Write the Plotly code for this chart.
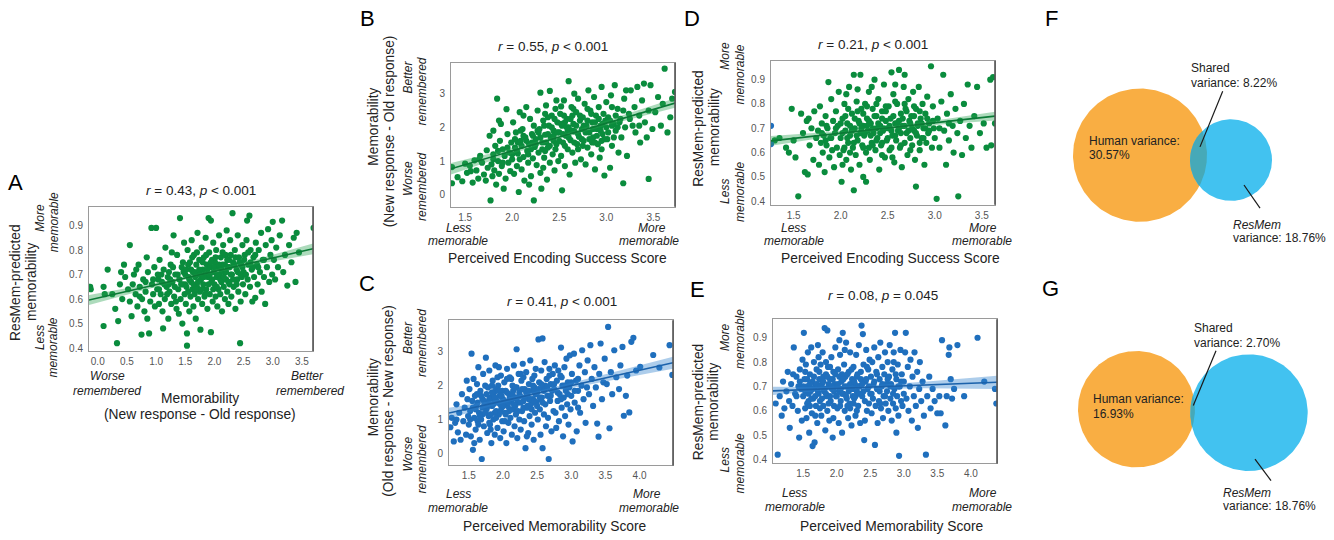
import numpy as np
import plotly.graph_objects as go

W, H = 1334, 540
FONT = "Liberation Sans, Arial, sans-serif"

# ---------------- data ----------------
# Panel A: x = Memorability (New - Old), y = ResMem-predicted memorability
A_points = [
 (-0.13,0.65),(-0.12,0.64),(0.10,0.65),(0.17,0.72),(0.12,0.62),(0.10,0.49),(0.30,0.56),(0.33,0.42),(0.35,0.51),
 (0.38,0.66),(0.42,0.60),(0.45,0.74),(0.25,0.62),(0.47,0.69),(0.40,0.71),
 (0.55,0.82),(0.52,0.64),(0.55,0.59),(0.58,0.53),(0.60,0.66),(0.62,0.70),(0.65,0.62),(0.68,0.57),(0.70,0.74),
 (0.72,0.65),(0.75,0.455),(0.76,0.60),(0.78,0.68),(0.80,0.55),(0.82,0.63),(0.84,0.77),(0.86,0.71),(0.88,0.46),
 (0.90,0.59),(0.92,0.89),(0.93,0.66),(0.95,0.62),(0.97,0.73),(0.98,0.57),(1.00,0.89),(0.66,0.72),(0.85,0.52),
 (1.02,0.64),(1.03,0.70),(1.05,0.58),(1.06,0.76),(1.08,0.62),(1.10,0.67),(1.11,0.55),(1.13,0.72),(1.15,0.60),
 (1.16,0.81),(1.18,0.65),(1.20,0.69),(1.21,0.52),(1.23,0.63),(1.25,0.74),(1.26,0.58),(1.28,0.67),(1.30,0.86),
 (1.31,0.61),(1.33,0.70),(1.35,0.56),(1.36,0.78),(1.38,0.64),(1.40,0.68),(1.41,0.93),(1.42,0.60),(1.44,0.73),
 (1.45,0.50),(1.46,0.66),(1.48,0.83),(1.49,0.62),(1.12,0.48),(1.27,0.79),(1.39,0.54),(1.04,0.68),(1.22,0.66),
 (1.34,0.59),(1.47,0.71),
 (1.50,0.66),(1.51,0.58),(1.52,0.72),(1.53,0.41),(1.53,0.46),(1.54,0.80),(1.55,0.63),(1.56,0.69),(1.57,0.55),
 (1.58,0.75),(1.59,0.61),(1.60,0.67),(1.61,0.84),(1.62,0.64),(1.63,0.71),(1.64,0.57),(1.65,0.78),(1.66,0.62),
 (1.67,0.69),(1.68,0.52),(1.69,0.74),(1.70,0.65),(1.71,0.87),(1.72,0.60),(1.73,0.70),(1.74,0.76),(1.75,0.63),
 (1.76,0.475),(1.77,0.68),(1.78,0.81),(1.79,0.58),(1.80,0.72),(1.81,0.66),(1.82,0.77),(1.83,0.61),(1.84,0.70),
 (1.85,0.85),(1.86,0.64),(1.87,0.74),(1.88,0.56),(1.89,0.69),(1.90,0.93),(1.91,0.79),(1.92,0.62),(1.93,0.73),
 (1.94,0.92),(1.94,0.465),(1.95,0.67),(1.96,0.76),(1.97,0.59),(1.98,0.83),(1.99,0.71),
 (2.00,0.66),(2.01,0.75),(2.02,0.61),(2.03,0.80),(2.04,0.69),(2.05,0.57),(2.06,0.73),(2.07,0.64),(2.08,0.86),
 (2.09,0.70),(2.10,0.62),(2.11,0.77),(2.12,0.67),(2.13,0.55),(2.14,0.74),(2.15,0.82),(2.16,0.65),(2.17,0.71),
 (2.18,0.60),(2.19,0.78),(2.20,0.68),(2.21,0.88),(2.22,0.63),(2.23,0.73),(2.24,0.58),(2.25,0.76),(2.26,0.66),
 (2.27,0.84),(2.28,0.70),(2.29,0.61),(2.31,0.95),(2.32,0.75),(2.33,0.65),(2.35,0.80),(2.36,0.56),(2.38,0.72),
 (2.39,0.68),(2.40,0.86),(2.41,0.63),(2.42,0.77),(2.44,0.42),(2.45,0.59),(2.46,0.74),(2.47,0.69),(2.48,0.82),
 (2.49,0.66),
 (2.50,0.71),(2.52,0.78),(2.53,0.62),(2.55,0.84),(2.56,0.92),(2.57,0.68),(2.58,0.74),(2.60,0.94),(2.61,0.65),
 (2.62,0.80),(2.64,0.72),(2.65,0.59),(2.67,0.77),(2.68,0.69),(2.70,0.605),(2.71,0.83),(2.73,0.74),(2.74,0.66),
 (2.76,0.80),(2.78,0.71),(2.80,0.87),(2.81,0.63),(2.83,0.76),(2.85,0.69),(2.87,0.58),(2.88,0.82),(2.90,0.73),
 (2.92,0.885),(2.94,0.67),(2.96,0.78),(2.98,0.84),(2.99,0.70),
 (3.00,0.915),(3.02,0.76),(3.04,0.68),(3.06,0.81),(3.09,0.73),(3.12,0.86),(3.16,0.92),(3.18,0.71),(3.21,0.78),
 (3.25,0.655),(3.28,0.82),(3.32,0.75),(3.36,0.85),(3.39,0.67),(3.41,0.87),(3.45,0.79),(3.70,0.89),
 (1.22,0.71),(1.24,0.68),(1.29,0.73),(1.32,0.65),(1.37,0.70),(1.43,0.66),(1.46,0.75),(1.50,0.70),(1.52,0.65),
 (1.55,0.74),(1.57,0.68),(1.60,0.72),(1.62,0.77),(1.64,0.66),(1.66,0.71),(1.68,0.64),(1.70,0.79),(1.72,0.67),
 (1.74,0.72),(1.76,0.70),(1.78,0.64),(1.80,0.75),(1.82,0.69),(1.84,0.62),(1.86,0.78),(1.88,0.72),(1.90,0.66),
 (1.92,0.70),(1.94,0.75),(1.96,0.68),(1.98,0.64),(2.00,0.73),(2.02,0.77),(2.04,0.65),(2.06,0.70),(2.08,0.74),
 (2.10,0.68),(2.12,0.72),(2.14,0.79),(2.16,0.69),(2.18,0.74),(2.20,0.71),(2.22,0.76),(2.24,0.67),(2.26,0.73),
 (2.28,0.78),(2.30,0.70),(2.32,0.68),(2.34,0.74),(2.36,0.77),(2.38,0.66),(2.40,0.71),(2.43,0.75),(2.45,0.70),
 (2.48,0.73),(2.51,0.76),(2.54,0.70),(2.58,0.79),(2.62,0.75),(2.66,0.73),(1.05,0.64),(1.09,0.70),(1.14,0.66),
 (1.19,0.62),(0.72,0.61),(0.82,0.67),(0.95,0.68),(2.70,0.78),(2.75,0.73),(2.85,0.76),
]
A_fit_x = [-0.15, 0.8, 1.8, 2.8, 3.69]
A_fit_y = [0.596, 0.647, 0.702, 0.756, 0.805]
A_fit_ci = [0.020, 0.010, 0.005, 0.011, 0.022]

# Panel B: x = Perceived Encoding Success Score, y = Memorability (New - Old)
B_points = [
 (1.36,0.34),(1.36,0.82),(1.42,0.52),(1.47,0.40),(1.50,0.92),(1.52,0.65),(1.55,0.86),(1.58,0.36),(1.60,1.02),
 (1.62,0.72),(1.64,0.48),(1.66,1.15),(1.68,0.95),(1.70,0.60),(1.72,0.42),(1.73,1.32),(1.74,0.80),(1.65,1.05),
 (1.56,0.70),
 (1.76,1.75),(1.77,-0.17),(1.78,0.90),(1.79,0.55),(1.80,1.20),(1.81,0.72),(1.82,1.45),(1.83,0.30),(1.84,2.85),
 (1.85,1.00),(1.86,0.62),(1.87,1.60),(1.88,2.10),(1.89,0.85),(1.90,1.35),(1.91,0.18),(1.92,1.15),(1.93,0.48),
 (1.94,2.54),(1.95,1.80),(1.96,0.95),(1.97,1.25),(1.98,0.70),(1.99,1.55),(1.86,2.20),(1.80,1.90),
 (2.00,1.05),(2.01,2.15),(2.02,0.62),(2.03,1.40),(2.04,1.85),(2.05,0.85),(2.06,1.22),(2.07,0.08),(2.08,2.45),
 (2.09,1.60),(2.10,0.75),(2.11,1.95),(2.12,1.12),(2.13,0.42),(2.14,1.70),(2.15,2.60),(2.16,1.30),(2.17,0.95),
 (2.18,1.50),(2.19,2.25),(2.20,0.55),(2.21,1.80),(2.22,1.08),(2.23,-0.17),(2.23,2.05),(2.24,1.42),(2.12,2.35),
 (2.06,1.55),(2.18,0.30),(2.09,1.90),
 (2.25,1.65),(2.26,0.88),(2.27,2.50),(2.28,1.25),(2.29,1.95),(2.30,3.03),(2.30,0.65),(2.31,0.18),(2.32,1.55),
 (2.33,2.20),(2.34,1.10),(2.35,1.78),(2.36,2.65),(2.37,0.45),(2.38,1.40),(2.39,2.05),(2.40,3.08),(2.40,0.95),
 (2.41,1.70),(2.42,2.35),(2.43,1.20),(2.44,1.90),(2.45,0.72),(2.46,2.55),(2.47,1.50),(2.48,2.15),(2.49,1.00),
 (2.28,1.85),(2.35,1.30),(2.44,1.60),(2.33,0.80),(2.47,2.80),(2.38,2.30),
 (2.50,1.85),(2.51,2.40),(2.52,1.15),(2.53,0.13),(2.53,2.05),(2.54,1.55),(2.55,2.80),(2.56,0.85),(2.57,1.75),
 (2.58,2.25),(2.59,1.35),(2.60,3.37),(2.60,2.00),(2.61,0.60),(2.62,1.62),(2.63,2.60),(2.64,1.25),(2.65,2.10),
 (2.66,1.88),(2.67,0.95),(2.68,2.45),(2.69,1.50),(2.70,2.85),(2.71,1.72),(2.72,2.20),(2.73,1.05),(2.74,1.95),
 (2.56,2.15),(2.64,2.35),(2.70,1.35),(2.59,1.90),(2.66,3.00),(2.52,2.62),
 (2.75,2.30),(2.76,1.60),(2.77,2.70),(2.78,0.90),(2.79,2.05),(2.80,1.40),(2.81,3.10),(2.82,1.85),(2.83,2.50),
 (2.84,1.20),(2.85,2.15),(2.86,1.70),(2.87,2.90),(2.88,0.75),(2.89,2.35),(2.90,1.95),(2.91,1.50),(2.92,2.60),
 (2.93,1.10),(2.94,2.05),(2.95,3.20),(2.96,1.80),(2.97,2.40),(2.98,0.57),(2.99,2.20),(2.80,2.55),(2.88,1.55),
 (2.95,1.35),
 (3.00,2.75),(3.01,1.65),(3.02,2.30),(3.04,0.80),(3.05,2.95),(3.06,1.45),(3.08,2.10),(3.09,3.25),(3.10,1.90),
 (3.12,2.55),(3.13,1.25),(3.15,2.25),(3.16,1.70),(3.18,0.34),(3.19,2.85),(3.20,2.00),(3.21,3.10),(3.22,1.15),
 (3.24,2.40),(3.06,2.60),
 (3.26,3.10),(3.28,2.05),(3.30,2.60),(3.31,1.85),(3.33,3.20),(3.35,2.35),(3.36,1.55),(3.38,2.80),(3.40,3.30),
 (3.41,2.15),(3.43,1.70),(3.45,0.47),(3.45,2.50),(3.47,3.25),(3.49,1.95),
 (3.52,2.45),(3.55,2.90),(3.58,2.05),(3.60,2.70),(3.62,3.74),(3.65,1.85),(3.68,2.30),(3.70,2.85),(3.73,3.05),
 (2.05,1.30),(2.10,1.45),(2.15,1.60),(2.20,1.35),(2.22,1.75),(2.25,1.50),(2.27,1.90),(2.30,1.70),(2.32,1.35),
 (2.34,2.05),(2.36,1.55),(2.38,1.80),(2.40,1.45),(2.42,2.00),(2.44,1.75),(2.46,1.35),(2.48,1.85),(2.50,1.60),
 (2.52,2.10),(2.54,1.80),(2.56,1.45),(2.58,2.00),(2.60,1.70),(2.62,2.25),(2.64,1.90),(2.66,1.55),(2.68,2.05),
 (2.70,1.80),(2.72,2.35),(2.74,1.65),(2.76,2.05),(2.78,1.85),(2.80,2.20),(2.82,1.65),(2.84,2.40),(2.86,1.95),
 (2.88,2.15),(2.90,1.75),(2.92,2.25),(2.94,1.90),(2.96,2.10),(2.98,1.65),(3.00,2.00),(3.02,1.85),(3.04,2.20),
 (3.06,2.05),(3.08,1.70),(3.10,2.35),(3.12,2.00),(3.14,2.15),(1.80,1.05),(1.85,1.30),(1.90,0.95),(1.95,1.40),
 (2.00,1.20),(2.03,1.65),(2.08,1.05),(2.12,1.75),(2.17,1.20),(2.21,1.55),(2.35,2.40),(2.45,2.25),(2.55,2.35),
 (2.65,2.55),(2.75,1.45),(2.85,1.55),(2.95,1.60),(3.18,2.50),(3.25,2.25),(3.35,2.05),
]
B_fit_x = [1.35, 1.95, 2.5, 3.1, 3.73]
B_fit_y = [0.77, 1.26, 1.71, 2.21, 2.72]
B_fit_ci = [0.17, 0.09, 0.05, 0.08, 0.14]

# Panel D: x = Perceived Encoding Success Score, y = ResMem-predicted memorability
D_points = [
 (1.30,0.65),(1.35,0.66),(1.42,0.62),(1.45,0.60),(1.48,0.78),(1.50,0.65),(1.52,0.58),(1.55,0.42),(1.58,0.76),
 (1.60,0.68),(1.62,0.52),(1.64,0.73),(1.65,0.51),(1.67,0.63),(1.69,0.70),(1.71,0.57),(1.72,0.77),(1.74,0.66),
 (1.66,0.74),
 (1.76,0.69),(1.77,0.55),(1.78,0.79),(1.79,0.64),(1.80,0.72),(1.81,0.60),(1.82,0.67),(1.83,0.52),(1.84,0.75),
 (1.85,0.63),(1.86,0.70),(1.87,0.89),(1.88,0.58),(1.89,0.66),(1.90,0.82),(1.91,0.61),(1.92,0.73),(1.93,0.54),
 (1.94,0.68),(1.95,0.77),(1.96,0.62),(1.97,0.71),(1.98,0.85),(1.99,0.59),(1.84,0.65),
 (2.00,0.66),(2.01,0.48),(2.02,0.74),(2.03,0.61),(2.04,0.80),(2.05,0.69),(2.06,0.57),(2.07,0.72),(2.08,0.64),
 (2.09,0.87),(2.10,0.67),(2.11,0.53),(2.12,0.76),(2.13,0.62),(2.14,0.92),(2.14,0.445),(2.15,0.70),(2.16,0.59),
 (2.17,0.81),(2.18,0.65),(2.19,0.73),(2.20,0.55),(2.21,0.92),(2.21,0.68),(2.22,0.78),(2.23,0.63),(2.24,0.71),
 (2.06,0.84),(2.18,0.86),(2.10,0.60),(2.02,0.55),(2.24,0.50),
 (2.25,0.67),(2.26,0.80),(2.27,0.60),(2.28,0.74),(2.29,0.69),(2.30,0.85),(2.31,0.57),(2.32,0.72),(2.33,0.64),
 (2.34,0.78),(2.35,0.68),(2.36,0.90),(2.37,0.61),(2.38,0.75),(2.39,0.66),(2.40,0.82),(2.41,0.53),(2.42,0.71),
 (2.43,0.63),(2.44,0.77),(2.45,0.69),(2.46,0.88),(2.47,0.58),(2.48,0.73),(2.49,0.65),(2.27,0.48),(2.33,0.87),
 (2.44,0.59),(2.38,0.70),(2.30,0.62),
 (2.50,0.70),(2.51,0.79),(2.52,0.61),(2.53,0.74),(2.54,0.93),(2.55,0.67),(2.56,0.84),(2.57,0.56),(2.58,0.72),
 (2.59,0.65),(2.60,0.80),(2.61,0.69),(2.62,0.94),(2.63,0.62),(2.64,0.76),(2.65,0.54),(2.66,0.71),(2.67,0.87),
 (2.68,0.64),(2.69,0.78),(2.70,0.68),(2.71,0.59),(2.72,0.82),(2.73,0.73),(2.74,0.66),(2.55,0.58),(2.62,0.73),
 (2.68,0.92),(2.58,0.88),
 (2.75,0.75),(2.76,0.63),(2.77,0.85),(2.78,0.69),(2.79,0.57),(2.80,0.46),(2.80,0.78),(2.81,0.67),(2.82,0.72),
 (2.83,0.87),(2.84,0.61),(2.85,0.74),(2.86,0.66),(2.87,0.80),(2.88,0.70),(2.89,0.55),(2.90,0.76),(2.91,0.64),
 (2.92,0.83),(2.93,0.68),(2.94,0.72),(2.96,0.955),(2.97,0.62),(2.98,0.79),(2.99,0.70),
 (3.00,0.66),(3.02,0.41),(3.03,0.74),(3.05,0.62),(3.07,0.81),(3.09,0.92),(3.10,0.69),(3.12,0.55),(3.13,0.76),
 (3.15,0.65),(3.17,0.84),(3.19,0.71),(3.20,0.60),(3.22,0.78),(3.24,0.68),
 (3.25,0.42),(3.27,0.73),(3.29,0.59),(3.31,0.80),(3.33,0.66),(3.35,0.88),(3.37,0.71),(3.39,0.62),(3.42,0.75),
 (3.45,0.87),(3.48,0.68),(3.52,0.72),(3.55,0.62),(3.59,0.90),(3.60,0.63),(3.62,0.91),(3.64,0.72),
 (1.80,0.68),(1.85,0.71),(1.90,0.66),(1.95,0.70),(2.00,0.72),(2.02,0.68),(2.05,0.75),(2.07,0.66),(2.10,0.71),
 (2.12,0.69),(2.15,0.74),(2.17,0.67),(2.20,0.72),(2.22,0.70),(2.24,0.76),(2.26,0.68),(2.28,0.71),(2.30,0.73),
 (2.32,0.67),(2.34,0.70),(2.36,0.75),(2.38,0.65),(2.40,0.72),(2.42,0.68),(2.44,0.74),(2.46,0.70),(2.48,0.77),
 (2.50,0.66),(2.52,0.71),(2.54,0.69),(2.56,0.75),(2.58,0.67),(2.60,0.72),(2.62,0.70),(2.64,0.68),(2.66,0.74),
 (2.68,0.71),(2.70,0.77),(2.72,0.69),(2.74,0.72),(2.76,0.70),(2.78,0.75),(2.80,0.68),(2.82,0.71),(2.84,0.77),
 (2.86,0.72),(2.88,0.66),(2.90,0.70),(2.92,0.74),(2.94,0.69),(2.04,0.62),(2.14,0.64),(2.24,0.62),(2.34,0.63),
 (2.44,0.64),(2.54,0.62),(2.64,0.63),(2.74,0.61),(2.84,0.64),(2.98,0.73),(2.08,0.78),(2.18,0.77),(2.28,0.79),
 (2.38,0.80),(2.48,0.79),(2.58,0.81),(2.68,0.80),(2.78,0.79),(3.05,0.70),(3.15,0.72),
]
D_stray_points = [(1.26,0.71),(1.26,0.635)]
D_fit_x = [1.26, 1.9, 2.5, 3.1, 3.64]
D_fit_y = [0.648, 0.676, 0.701, 0.727, 0.750]
D_fit_ci = [0.020, 0.010, 0.006, 0.010, 0.018]

# Panel C: x = Perceived Memorability Score, y = Memorability (Old - New)
C_points = [
 (1.23,0.77),(1.25,1.05),(1.28,0.35),(1.30,0.90),(1.32,1.45),(1.34,0.62),(1.36,1.20),(1.38,0.40),(1.40,1.75),
 (1.42,0.95),(1.44,1.35),(1.46,0.55),(1.47,2.15),(1.48,1.60),(1.49,1.10),(1.32,1.00),
 (1.50,0.85),(1.51,1.90),(1.52,1.25),(1.53,0.50),(1.54,2.95),(1.55,1.55),(1.56,0.10),(1.57,2.20),(1.58,1.05),
 (1.59,1.70),(1.60,0.70),(1.61,1.40),(1.62,2.05),(1.63,0.95),(1.64,2.55),(1.65,1.20),(1.66,0.40),(1.67,1.85),
 (1.68,1.00),(1.69,-0.17),(1.70,1.60),(1.71,2.35),(1.72,0.80),(1.73,1.45),(1.74,2.00),(1.75,2.83),(1.62,1.75),
 (1.70,1.15),(1.58,0.30),
 (1.76,1.30),(1.77,0.60),(1.78,1.95),(1.79,1.10),(1.80,2.45),(1.81,0.85),(1.82,1.65),(1.83,0.30),(1.84,1.40),
 (1.85,2.15),(1.86,1.00),(1.87,1.80),(1.88,0.55),(1.89,2.60),(1.90,1.25),(1.91,1.55),(1.92,0.75),(1.93,2.00),
 (1.94,1.15),(1.95,1.70),(1.96,0.45),(1.97,2.30),(1.98,1.35),(1.99,0.95),(1.78,1.50),(1.84,2.00),(1.90,1.90),
 (1.96,1.45),(1.80,0.90),(1.88,1.20),(1.94,2.55),(1.86,1.60),(1.99,1.85),
 (2.00,1.60),(2.01,0.65),(2.02,2.10),(2.03,1.20),(2.04,1.85),(2.05,0.30),(2.06,2.50),(2.07,1.40),(2.08,0.90),
 (2.09,1.75),(2.10,2.25),(2.11,1.05),(2.12,1.55),(2.13,0.55),(2.14,2.00),(2.15,1.30),(2.16,2.60),(2.17,0.80),
 (2.18,1.65),(2.19,1.15),(2.20,3.08),(2.20,1.95),(2.21,0.45),(2.22,1.50),(2.23,2.35),(2.24,1.00),(2.05,1.50),
 (2.12,2.20),(2.18,1.40),(2.24,1.80),(2.03,0.95),(2.15,1.85),(2.09,1.25),
 (2.25,1.70),(2.26,0.70),(2.27,2.15),(2.28,1.25),(2.29,2.65),(2.30,1.55),(2.31,0.95),(2.32,1.90),(2.33,0.15),
 (2.34,2.40),(2.35,1.35),(2.36,1.75),(2.37,0.60),(2.38,2.05),(2.39,1.10),(2.40,2.75),(2.41,1.45),(2.42,0.85),
 (2.43,2.20),(2.44,1.60),(2.45,0.40),(2.46,1.95),(2.47,1.20),(2.48,2.50),(2.49,1.50),(2.30,2.25),(2.38,1.60),
 (2.44,1.85),(2.35,0.50),
 (2.50,1.80),(2.51,1.00),(2.52,3.37),(2.53,2.10),(2.54,1.30),(2.55,0.55),(2.56,2.45),(2.57,1.65),(2.58,3.40),
 (2.58,0.15),(2.59,1.95),(2.60,1.15),(2.61,2.70),(2.62,1.45),(2.63,0.80),(2.64,2.20),(2.65,1.70),(2.66,1.05),
 (2.67,-0.17),(2.68,2.50),(2.69,1.55),(2.70,2.05),(2.71,0.65),(2.72,1.85),(2.73,2.35),(2.74,1.25),(2.62,2.00),
 (2.55,1.60),
 (2.75,1.90),(2.76,2.60),(2.77,1.20),(2.78,0.75),(2.79,2.15),(2.80,1.55),(2.81,2.45),(2.82,0.95),(2.83,1.75),
 (2.84,2.30),(2.85,3.13),(2.86,1.35),(2.87,2.00),(2.88,0.50),(2.89,1.65),(2.90,2.55),(2.91,1.10),(2.92,1.85),
 (2.93,2.80),(2.94,1.45),(2.95,2.10),(2.96,0.85),(2.97,1.95),(2.98,2.90),(2.99,1.30),
 (3.00,1.70),(3.01,2.35),(3.02,0.35),(3.04,2.95),(3.05,1.50),(3.07,2.15),(3.08,0.65),(3.10,1.85),(3.12,2.60),
 (3.13,1.20),(3.15,2.00),(3.16,3.05),(3.18,1.60),(3.20,2.40),(3.21,0.90),(3.23,1.95),(3.24,2.75),(3.10,1.35),
 (3.26,1.75),(3.28,3.20),(3.30,2.20),(3.32,1.40),(3.34,2.55),(3.36,1.95),(3.38,0.88),(3.40,0.49),(3.41,2.35),
 (3.43,3.25),(3.45,1.60),(3.47,2.10),(3.49,2.80),
 (3.52,2.05),(3.54,3.74),(3.56,0.74),(3.58,2.40),(3.60,1.75),(3.63,3.05),(3.66,2.25),(3.70,1.90),(3.72,2.60),
 (3.75,3.15),(3.77,1.11),(3.80,1.70),(3.82,2.30),(3.85,1.21),(3.88,3.30),(3.91,3.42),(3.95,2.45),
 (4.01,2.56),(4.20,2.91),(4.29,2.54),(4.44,3.20),(4.48,2.32),
 (1.60,1.30),(1.63,1.50),(1.66,1.10),(1.68,1.70),(1.70,1.35),(1.72,1.55),(1.74,1.20),(1.76,1.75),(1.78,1.40),
 (1.80,1.60),(1.82,1.15),(1.84,1.80),(1.86,1.45),(1.88,1.65),(1.90,1.05),(1.92,1.50),(1.94,1.85),(1.96,1.25),
 (1.98,1.70),(2.00,1.40),(2.02,1.55),(2.04,1.15),(2.06,1.80),(2.08,1.50),(2.10,1.65),(2.12,1.30),(2.14,1.75),
 (2.16,1.45),(2.18,1.95),(2.20,1.60),(2.22,1.25),(2.24,1.70),(2.26,1.50),(2.28,1.90),(2.30,1.35),(2.32,1.65),
 (2.34,1.80),(2.36,1.40),(2.38,1.85),(2.40,1.60),(2.42,1.30),(2.44,2.00),(2.46,1.55),(2.48,1.75),(2.50,1.40),
 (2.52,1.90),(2.54,1.65),(2.56,2.05),(2.58,1.50),(2.60,1.85),(2.65,1.95),(2.70,1.70),(2.75,2.05),(2.80,1.80),
 (2.85,1.60),(2.90,2.00),(2.95,1.75),(3.00,2.10),(3.05,1.85),(3.10,2.20),(1.52,1.00),(1.56,1.35),(1.64,0.85),
 (1.82,0.70),(1.92,2.25),(2.06,2.20),(2.26,2.35),(2.46,2.30),(2.68,2.30),(2.86,2.25),
]
C_fit_x = [1.21, 1.8, 2.35, 3.4, 4.49]
C_fit_y = [1.19, 1.46, 1.71, 2.19, 2.68]
C_fit_ci = [0.16, 0.08, 0.05, 0.10, 0.18]

# Panel E: x = Perceived Memorability Score, y = ResMem-predicted memorability
E_points = [
 (1.09,0.63),(1.12,0.42),(1.15,0.66),(1.18,0.58),(1.20,0.72),(1.22,0.61),(1.25,0.68),(1.27,0.76),(1.29,0.64),
 (1.30,0.53),(1.32,0.71),(1.34,0.62),(1.36,0.86),(1.38,0.67),(1.40,0.74),(1.42,0.60),(1.44,0.49),(1.45,0.77),
 (1.47,0.69),(1.48,0.56),(1.49,0.81),(1.35,0.75),(1.43,0.70),
 (1.50,0.66),(1.51,0.92),(1.52,0.73),(1.53,0.61),(1.54,0.79),(1.55,0.57),(1.56,0.70),(1.57,0.84),(1.58,0.64),
 (1.59,0.51),(1.60,0.75),(1.61,0.68),(1.62,0.86),(1.63,0.59),(1.64,0.455),(1.64,0.72),(1.65,0.65),(1.66,0.80),
 (1.67,0.47),(1.68,0.70),(1.69,0.62),(1.70,0.77),(1.71,0.55),(1.72,0.87),(1.73,0.67),(1.74,0.73),(1.56,0.63),
 (1.62,0.69),(1.68,0.58),(1.73,0.82),(1.53,0.76),
 (1.75,0.64),(1.76,0.79),(1.77,0.58),(1.78,0.71),(1.79,0.84),(1.80,0.62),(1.81,0.68),(1.82,0.94),(1.83,0.52),
 (1.84,0.75),(1.85,0.66),(1.86,0.93),(1.86,0.60),(1.87,0.78),(1.88,0.70),(1.89,0.56),(1.90,0.73),(1.91,0.64),
 (1.92,0.82),(1.93,0.69),(1.94,0.49),(1.95,0.76),(1.96,0.62),(1.97,0.71),(1.98,0.86),(1.99,0.66),(1.80,0.74),
 (1.88,0.63),(1.95,0.57),(1.84,0.80),
 (2.00,0.70),(2.01,0.61),(2.02,0.77),(2.03,0.55),(2.04,0.68),(2.05,0.83),(2.06,0.64),(2.07,0.72),(2.08,0.51),
 (2.09,0.92),(2.10,0.67),(2.11,0.79),(2.12,0.60),(2.13,0.74),(2.14,0.88),(2.15,0.65),(2.16,0.70),(2.17,0.57),
 (2.18,0.76),(2.19,0.63),(2.20,0.84),(2.21,0.69),(2.22,0.54),(2.23,0.73),(2.24,0.66),(2.04,0.89),(2.12,0.85),
 (2.20,0.61),(2.08,0.75),(2.16,0.62),
 (2.25,0.78),(2.26,0.65),(2.27,0.71),(2.28,0.58),(2.29,0.83),(2.30,0.68),(2.31,0.75),(2.32,0.62),(2.33,0.87),
 (2.34,0.70),(2.35,0.55),(2.36,0.73),(2.37,0.95),(2.38,0.66),(2.39,0.915),(2.40,0.79),(2.41,0.48),(2.42,0.64),
 (2.43,0.72),(2.44,0.85),(2.45,0.60),(2.46,0.69),(2.47,0.77),(2.48,0.63),(2.49,0.81),(2.30,0.60),(2.42,0.56),
 (2.50,0.67),(2.51,0.74),(2.52,0.59),(2.53,0.80),(2.54,0.65),(2.55,0.71),(2.56,0.86),(2.57,0.46),(2.58,0.62),
 (2.59,0.76),(2.60,0.69),(2.61,0.55),(2.62,0.82),(2.63,0.64),(2.64,0.73),(2.65,0.88),(2.66,0.61),(2.67,0.70),
 (2.68,0.78),(2.69,0.57),(2.70,0.66),(2.71,0.75),(2.72,0.84),(2.73,0.63),(2.74,0.71),
 (2.75,0.68),(2.76,0.80),(2.77,0.60),(2.78,0.74),(2.79,0.87),(2.80,0.65),(2.81,0.71),(2.82,0.56),(2.83,0.77),
 (2.84,0.63),(2.85,0.84),(2.86,0.69),(2.87,0.92),(2.88,0.61),(2.89,0.51),(2.89,0.73),(2.90,0.66),(2.91,0.79),
 (2.92,0.58),(2.93,0.415),(2.94,0.70),(2.95,0.85),(2.96,0.64),(2.97,0.75),(2.98,0.62),
 (3.00,0.72),(3.02,0.84),(3.03,0.92),(3.04,0.65),(3.06,0.78),(3.07,0.60),(3.09,0.70),(3.10,0.81),(3.12,0.56),
 (3.13,0.74),(3.15,0.66),(3.16,0.84),(3.18,0.62),(3.20,0.76),(3.21,0.53),(3.23,0.69),(3.24,0.80),
 (3.26,0.64),(3.28,0.72),(3.30,0.58),(3.33,0.42),(3.35,0.66),(3.38,0.74),(3.40,0.61),(3.43,0.69),(3.46,0.64),
 (3.50,0.59),(3.53,0.66),(3.57,0.89),(3.55,0.59),
 (3.62,0.54),(3.64,0.66),(3.67,0.83),(3.68,0.86),(3.70,0.73),(3.72,0.65),(3.75,0.69),(3.80,0.87),(3.90,0.66),
 (4.10,0.90),(4.20,0.72),(4.36,0.69),(4.38,0.63),
 (1.50,0.70),(1.53,0.68),(1.56,0.73),(1.58,0.67),(1.60,0.71),(1.62,0.65),(1.64,0.69),(1.66,0.74),(1.68,0.66),
 (1.70,0.71),(1.72,0.68),(1.74,0.76),(1.76,0.70),(1.78,0.65),(1.80,0.72),(1.82,0.69),(1.84,0.67),(1.86,0.74),
 (1.88,0.71),(1.90,0.66),(1.92,0.70),(1.94,0.73),(1.96,0.68),(1.98,0.75),(2.00,0.66),(2.02,0.71),(2.04,0.74),
 (2.06,0.69),(2.08,0.67),(2.10,0.73),(2.12,0.70),(2.14,0.66),(2.16,0.75),(2.18,0.68),(2.20,0.71),(2.22,0.77),
 (2.24,0.69),(2.26,0.72),(2.28,0.66),(2.30,0.74),(2.32,0.70),(2.34,0.67),(2.36,0.76),(2.38,0.71),(2.40,0.68),
 (2.44,0.73),(2.48,0.70),(2.52,0.67),(2.56,0.72),(2.60,0.75),(2.64,0.68),(2.68,0.71),(2.72,0.66),(2.76,0.73),
 (2.80,0.70),(2.84,0.67),(2.88,0.75),(2.92,0.70),(2.96,0.72),(3.00,0.67),(1.40,0.66),(1.45,0.72),(1.60,0.62),
 (1.75,0.61),(1.90,0.78),(2.05,0.62),(2.25,0.63),(2.45,0.78),(2.65,0.63),(2.85,0.80),
]
E_fit_x = [1.05, 1.7, 2.3, 3.3, 4.39]
E_fit_y = [0.682, 0.689, 0.695, 0.706, 0.717]
E_fit_ci = [0.017, 0.009, 0.006, 0.013, 0.027]

# Venn diagrams (percent of variance)
F_values = {"human": 30.57, "shared": 8.22, "resmem": 18.76}
G_values = {"human": 16.93, "shared": 2.70, "resmem": 18.76}

titles = {
    "A": ("0.43", "&lt; 0.001"), "B": ("0.55", "&lt; 0.001"), "D": ("0.21", "&lt; 0.001"),
    "C": ("0.41", "&lt; 0.001"), "E": ("0.08", "= 0.045"),
}

# ---------------- styling ----------------
GREEN = "#0a8c3d"
GREEN_LINE = "#0b7a36"
GREEN_BAND = "rgba(40,160,80,0.38)"
BLUE = "#1f6fbd"
BLUE_LINE = "#1b62ab"
BLUE_BAND = "rgba(50,130,205,0.40)"
ORANGE_V = "#F9AE43"
BLUE_V = "#42C2F0"
OVERLAP_V = "#46A9B8"

T_TITLE = 13.5
T_AXIS = 13.8
T_IT = 12
T_TICK = 10
T_LETTER = 22
T_VENN = 12

def pxx(x):
    return x / W

def pyy(y):
    return 1 - y / H

fig = go.Figure()

panels = {
    "A": (1, (89, 313), (208, 353), (-0.15, 3.69), (0.388, 0.976),
          [0.0, 0.5, 1.0, 1.5, 2.0, 2.5, 3.0, 3.5], [0.4, 0.5, 0.6, 0.7, 0.8, 0.9],
          A_points, (A_fit_x, A_fit_y, A_fit_ci), "green"),
    "B": (2, (451, 675), (63, 208), (1.35, 3.73), (-0.36, 3.92),
          [1.5, 2.0, 2.5, 3.0, 3.5], [0, 1, 2, 3],
          B_points, (B_fit_x, B_fit_y, B_fit_ci), "green"),
    "C": (3, (449, 673), (322, 468), (1.21, 4.49), (-0.36, 3.94),
          [1.5, 2.0, 2.5, 3.0, 3.5, 4.0], [0, 1, 2, 3],
          C_points, (C_fit_x, C_fit_y, C_fit_ci), "blue"),
    "D": (4, (771, 995), (61, 206), (1.26, 3.64), (0.385, 0.978),
          [1.5, 2.0, 2.5, 3.0, 3.5], [0.4, 0.5, 0.6, 0.7, 0.8, 0.9],
          D_points, (D_fit_x, D_fit_y, D_fit_ci), "green"),
    "E": (5, (773, 997), (321, 466), (1.05, 4.39), (0.384, 0.976),
          [1.5, 2.0, 2.5, 3.0, 3.5, 4.0], [0.4, 0.5, 0.6, 0.7, 0.8, 0.9],
          E_points, (E_fit_x, E_fit_y, E_fit_ci), "blue"),
}

def fmt(v):
    return f"{v:.1f}" if isinstance(v, float) else f"{v}"

shapes = []
layout_axes = {}
for name, (i, xpx, ypx, xr, yr, xt, yt, pts, fit, col) in panels.items():
    xa = "x" if i == 1 else f"x{i}"
    ya = "y" if i == 1 else f"y{i}"
    mc, lc, bc = (GREEN, GREEN_LINE, GREEN_BAND) if col == "green" else (BLUE, BLUE_LINE, BLUE_BAND)
    fig.add_trace(go.Scatter(x=[p[0] for p in pts], y=[p[1] for p in pts], mode="markers",
                             xaxis=xa, yaxis=ya,
                             marker=dict(size=6.2, color=mc, line=dict(width=0)),
                             showlegend=False, hoverinfo="skip"))
    if name == "D":
        fig.add_trace(go.Scatter(x=[p[0] for p in D_stray_points], y=[p[1] for p in D_stray_points],
                                 mode="markers", xaxis=xa, yaxis=ya,
                                 marker=dict(size=6.2, color=BLUE, line=dict(width=0)),
                                 showlegend=False, hoverinfo="skip"))
    fx, fy, fci = fit
    lo = [a - b for a, b in zip(fy, fci)]
    hi = [a + b for a, b in zip(fy, fci)]
    fig.add_trace(go.Scatter(x=list(fx) + list(fx[::-1]), y=lo + hi[::-1], mode="lines",
                             fill="toself", fillcolor=bc, line=dict(width=0),
                             xaxis=xa, yaxis=ya, showlegend=False, hoverinfo="skip"))
    fig.add_trace(go.Scatter(x=fx, y=fy, mode="lines", line=dict(color=lc, width=1.6),
                             xaxis=xa, yaxis=ya, showlegend=False, hoverinfo="skip"))

    axcommon = dict(showgrid=False, zeroline=False, showline=True, mirror=True,
                    linecolor="#9a9a9a", linewidth=1, ticks="",
                    tickfont=dict(size=T_TICK, color="#555555", family=FONT),
                    fixedrange=True)
    xkey = "xaxis" if i == 1 else f"xaxis{i}"
    ykey = "yaxis" if i == 1 else f"yaxis{i}"
    layout_axes[xkey] = dict(axcommon, domain=[xpx[0] / W, xpx[1] / W], range=list(xr),
                             anchor=ya, tickvals=xt, ticktext=[fmt(v) for v in xt],
                             ticklabelstandoff=1)
    layout_axes[ykey] = dict(axcommon, domain=[1 - ypx[1] / H, 1 - ypx[0] / H], range=list(yr),
                             anchor=xa, tickvals=yt, ticktext=[fmt(v) for v in yt],
                             ticklabelstandoff=3)
    shapes.append(dict(type="line", xref=f"{xa} domain", yref=f"{ya} domain",
                       x0=1, x1=1, y0=0, y1=1, line=dict(color="#555555", width=1.6)))

# ---------------- Venn diagrams ----------------
def circle_xy(cx, cy, r, n=240):
    t = np.linspace(0, 2 * np.pi, n)
    return cx + r * np.cos(t), cy + r * np.sin(t)

def lens_xy(c1, r1, c2, r2, n=80):
    dx, dy = c2[0] - c1[0], c2[1] - c1[1]
    d = np.hypot(dx, dy)
    th = np.arctan2(dy, dx)
    a1 = np.arccos((d * d + r1 * r1 - r2 * r2) / (2 * d * r1))
    a2 = np.arccos((d * d + r2 * r2 - r1 * r1) / (2 * d * r2))
    t1 = np.linspace(th - a1, th + a1, n)
    t2 = np.linspace(th + np.pi - a2, th + np.pi + a2, n)
    xs = np.concatenate([c1[0] + r1 * np.cos(t1), c2[0] + r2 * np.cos(t2)])
    ys = np.concatenate([c1[1] + r1 * np.sin(t1), c2[1] + r2 * np.sin(t2)])
    return xs, ys

venn_geom = [
    ((1140, 156), 67, (1231, 161), 41),
    ((1136.5, 411.5), 58.5, (1249, 415), 58.7),
]
for (c1, r1, c2, r2) in venn_geom:
    for (cx, cy), r, colr in [(c1, r1, ORANGE_V), (c2, r2, BLUE_V)]:
        x, y = circle_xy(cx, cy, r)
        fig.add_trace(go.Scatter(x=x, y=y, mode="lines", fill="toself", fillcolor=colr,
                                 line=dict(width=0), xaxis="x6", yaxis="y6",
                                 showlegend=False, hoverinfo="skip"))
    x, y = lens_xy(c1, r1, c2, r2)
    fig.add_trace(go.Scatter(x=x, y=y, mode="lines", fill="toself", fillcolor=OVERLAP_V,
                             line=dict(width=0), xaxis="x6", yaxis="y6",
                             showlegend=False, hoverinfo="skip"))

layout_axes["xaxis6"] = dict(domain=[1040 / W, 1], range=[1040, 1334], visible=False,
                             fixedrange=True, anchor="y6")
layout_axes["yaxis6"] = dict(domain=[0, 1], range=[540, 0], visible=False,
                             fixedrange=True, anchor="x6")

for (x0, y0, x1, y1) in [(1222.7, 91.7, 1200, 147.7), (1244, 186, 1260, 209.3),
                         (1216, 352.7, 1193.3, 407.7), (1255, 461.7, 1271, 483.3)]:
    shapes.append(dict(type="line", xref="x6", yref="y6", x0=x0, y0=y0, x1=x1, y1=y1,
                       line=dict(color="#1a1a1a", width=1.2)))

# ---------------- annotations ----------------
annotations = []

def ann(text, x, y, size, angle=0, xanchor="center", color="#222222"):
    annotations.append(dict(text=text, x=pxx(x), y=pyy(y), xref="paper", yref="paper",
                            showarrow=False, textangle=angle, xanchor=xanchor, yanchor="middle",
                            borderpad=0, font=dict(size=size, color=color, family=FONT)))

def it(t):
    return f"<i>{t}</i>"

# panel letters
for letter, (x, y) in {"A": (15, 184), "B": (367, 19), "C": (367, 285), "D": (692, 19),
                       "E": (697, 291), "F": (1051, 19), "G": (1050, 290)}.items():
    ann(letter, x, y, T_LETTER, color="#000000")

# r / p titles
for k, (x, y) in {"A": (201, 192), "B": (553, 47), "D": (873, 45), "C": (562, 303), "E": (883, 297)}.items():
    r, p = titles[k]
    ann(f"{it('r')} = {r}, {it('p')} {p}", x, y, T_TITLE)

# axis titles (one annotation per line)
ann("Memorability", 200, 401, T_AXIS)
ann("(New response - Old response)", 200, 417, T_AXIS)
ann("ResMem-predicted", 15.5, 284, T_AXIS, angle=-90)
ann("memorability", 31.5, 284, T_AXIS, angle=-90)
ann("Memorability", 373.5, 128, T_AXIS, angle=-90)
ann("(New response - Old response)", 389, 132, T_AXIS, angle=-90)
ann("Perceived Encoding Success Score", 557, 260, T_AXIS)
ann("ResMem-predicted", 698.5, 129, T_AXIS, angle=-90)
ann("memorability", 714, 128, T_AXIS, angle=-90)
ann("Perceived Encoding Success Score", 890, 260, T_AXIS)
ann("Memorability", 373.5, 400, T_AXIS, angle=-90)
ann("(Old response - New response)", 389, 403, T_AXIS, angle=-90)
ann("Perceived Memorability Score", 555, 529, T_AXIS)
ann("ResMem-predicted", 698.5, 404, T_AXIS, angle=-90)
ann("memorability", 714, 404, T_AXIS, angle=-90)
ann("Perceived Memorability Score", 892, 529, T_AXIS)

# italic anchor labels
# A
ann(it("More"), 40, 219, T_IT, angle=-90)
ann(it("memorable"), 53.5, 224, T_IT, angle=-90)
ann(it("Less"), 40, 340, T_IT, angle=-90)
ann(it("memorable"), 53.5, 350, T_IT, angle=-90)
ann(it("Worse"), 108, 378, T_IT)
ann(it("remembered"), 107, 393, T_IT)
ann(it("Better"), 307, 378, T_IT)
ann(it("remembered"), 310, 393, T_IT)
# B
ann(it("Better"), 408, 78, T_IT, angle=-90)
ann(it("remembered"), 422, 92, T_IT, angle=-90)
ann(it("Worse"), 408, 180, T_IT, angle=-90)
ann(it("remembered"), 422, 188, T_IT, angle=-90)
ann(it("Less"), 458, 229.5, T_IT)
ann(it("memorable"), 458, 242, T_IT)
ann(it("More"), 652, 229.5, T_IT)
ann(it("memorable"), 649, 242, T_IT)
# D
ann(it("More"), 725, 56, T_IT, angle=-90)
ann(it("memorable"), 740, 75, T_IT, angle=-90)
ann(it("Less"), 725, 193, T_IT, angle=-90)
ann(it("memorable"), 740, 193, T_IT, angle=-90)
ann(it("Less"), 793, 229.5, T_IT)
ann(it("memorable"), 794, 242, T_IT)
ann(it("More"), 983, 229.5, T_IT)
ann(it("memorable"), 982, 242, T_IT)
# C
ann(it("Better"), 408, 340, T_IT, angle=-90)
ann(it("remembered"), 422, 345, T_IT, angle=-90)
ann(it("Worse"), 408, 457, T_IT, angle=-90)
ann(it("remembered"), 422, 462, T_IT, angle=-90)
ann(it("Less"), 458, 497, T_IT)
ann(it("memorable"), 458, 511, T_IT)
ann(it("More"), 647, 497, T_IT)
ann(it("memorable"), 649, 511, T_IT)
# E
ann(it("More"), 725, 339, T_IT, angle=-90)
ann(it("memorable"), 740, 341, T_IT, angle=-90)
ann(it("Less"), 725, 463, T_IT, angle=-90)
ann(it("memorable"), 740, 466, T_IT, angle=-90)
ann(it("Less"), 795, 496, T_IT)
ann(it("memorable"), 795, 510, T_IT)
ann(it("More"), 983, 496, T_IT)
ann(it("memorable"), 982, 510, T_IT)

# Venn labels (one annotation per line, left aligned)
for vals, sh, hu, rm in [
    (F_values, (1190, 68, 83), (1088, 141.7, 155.7), (1232, 226.7, 239.5)),
    (G_values, (1193, 330, 345.3), (1092, 401.7, 416.7), (1222, 496, 509.3)),
]:
    ann("Shared", sh[0], sh[1], T_VENN, xanchor="left")
    ann(f"variance: {vals['shared']:.2f}%", sh[0], sh[2], T_VENN, xanchor="left")
    ann("Human variance:", hu[0], hu[1], T_VENN, xanchor="left")
    ann(f"{vals['human']:.2f}%", hu[0], hu[2], T_VENN, xanchor="left")
    ann(it("ResMem"), rm[0], rm[1], T_VENN, xanchor="left")
    ann(f"variance: {vals['resmem']:.2f}%", rm[0], rm[2], T_VENN, xanchor="left")

fig.update_layout(
    width=W, height=H, margin=dict(l=0, r=0, t=0, b=0),
    paper_bgcolor="white", plot_bgcolor="white",
    showlegend=False, shapes=shapes, annotations=annotations,
    font=dict(family=FONT),
    **layout_axes,
)

fig.write_html("out.html", config={"displayModeBar": False},
               post_script="document.body.style.margin='0';document.body.style.overflow='hidden';")
